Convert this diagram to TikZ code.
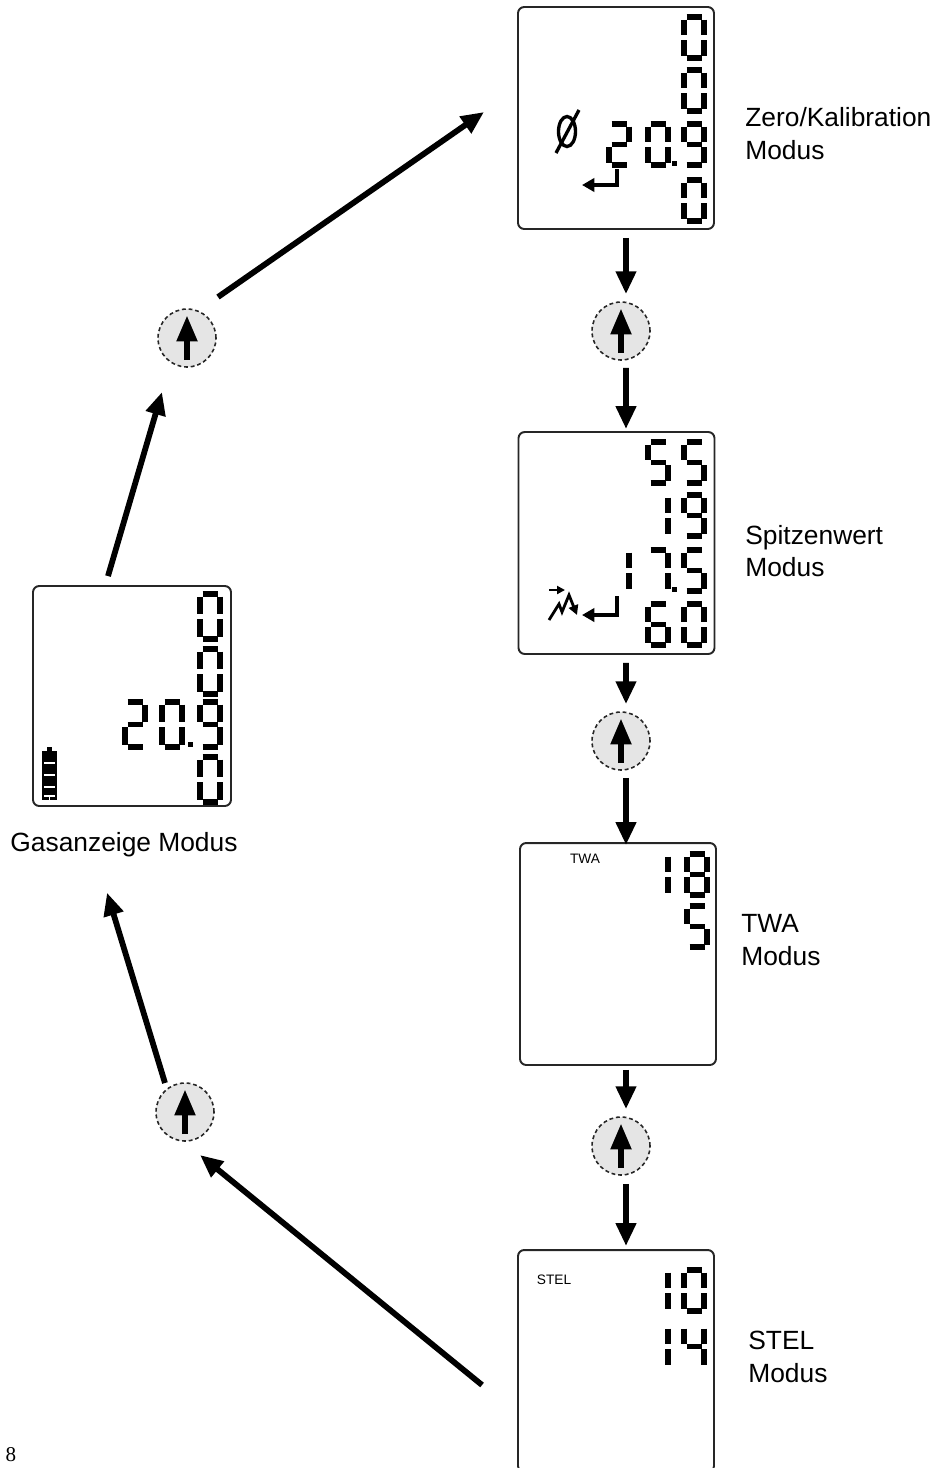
\documentclass[tikz,border=0pt]{standalone}
\usepackage{fontspec}
\setmainfont{Liberation Sans}
\newfontfamily\pagenofont{Liberation Serif}
\usepackage{tikz}
\usetikzlibrary{
    arrows.meta,
    positioning
}

% seven segment digits (px units, y down)
\newcommand{\segw}{20}
\newcommand{\segh}{41}
\newcommand{\lcdseg}[1]{%
    \if#1a\draw[seg] (2.5,0) -- (\segw-2.5,0);\fi
    \if#1b\draw[seg] (\segw,2.5) -- (\segw,\segh/2-2.5);\fi
    \if#1c\draw[seg] (\segw,\segh/2+2.5) -- (\segw,\segh-2.5);\fi
    \if#1d\draw[seg] (2.5,\segh) -- (\segw-2.5,\segh);\fi
    \if#1e\draw[seg] (0,\segh/2+2.5) -- (0,\segh-2.5);\fi
    \if#1f\draw[seg] (0,2.5) -- (0,\segh/2-2.5);\fi
    \if#1g\draw[seg] (2.5,\segh/2) -- (\segw-2.5,\segh/2);\fi}
\newcommand{\lcddigit}[3]{%
    \begin{scope}[shift={(#1,#2)}]
        \edef\seglist{#3}
        \foreach \s in \seglist {\lcdseg{\s}}
    \end{scope}}
\newcommand{\dgzero}{a,b,c,d,e,f}
\newcommand{\dgone}{b,c}
\newcommand{\dgtwo}{a,b,g,e,d}
\newcommand{\dgfour}{f,g,b,c}
\newcommand{\dgfive}{a,f,g,c,d}
\newcommand{\dgsix}{a,f,g,e,c,d}
\newcommand{\dgseven}{a,b,c}
\newcommand{\dgeight}{a,b,c,d,e,f,g}
\newcommand{\dgnine}{a,b,c,d,f,g}

\begin{document}
\begin{tikzpicture}[
    x=0.02cm, y=-0.02cm,
    font=\fontsize{15}{18.7}\selectfont,
    lcdbox/.style={
        rectangle,
        rounded corners=3.5pt,
        draw=black!85,
        line width=1.1pt,
        inner sep=0pt,
        minimum width=3.92cm,
        minimum height=4.44cm
    },
    button/.style={
        circle,
        draw=black!85,
        fill=gray!20,
        line width=0.9pt,
        dash pattern=on 2.2pt off 1.6pt,
        minimum size=1.16cm,
        inner sep=0pt
    },
    seg/.style={line width=2.9pt},
    modelabel/.style={anchor=west, align=left, inner sep=0pt},
    tag/.style={font=\fontsize{7.8}{9}\selectfont, inner sep=0pt},
    bigarrow/.style={-{Triangle[length=13pt,width=11pt]}, line width=3.3pt},
    btnarrow/.style={-{Triangle[length=15pt,width=11pt]}, line width=3.8pt},
    retarrow/.style={-{Triangle[length=7pt,width=7.5pt]}, line width=1.9pt}
]
\useasboundingbox (0,0) rectangle (933,1468);

% ===== displays =====
\node[lcdbox] (zero) at (616,118) {};
\node[lcdbox] (peak) at (616.5,543) {};
\node[lcdbox] (twa) at (618,954) {};
\node[lcdbox] (stel) at (616,1361) {};
\node[lcdbox, minimum width=3.96cm, minimum height=4.4cm] (gas) at (132,696) {};

\node[modelabel] (zerolab) at (745,133.5) {Zero/Kalibration\\Modus};
\node[modelabel] (peaklab) at (745,551) {Spitzenwert\\Modus};
\node[modelabel] (twalab) at (741,940) {TWA\\Modus};
\node[modelabel] (stellab) at (748,1357) {STEL\\Modus};
\node[inner sep=0pt] (gaslab) at (124,845) {Gasanzeige Modus};

% ===== buttons =====
\node[button] (btnA) at (187,338) {};
\node[button] (btnB) at (621,331) {};
\node[button] (btnC) at (621,741) {};
\node[button] (btnD) at (621,1146) {};
\node[button] (btnE) at (185,1112) {};
\foreach \b in {btnA,btnB,btnC,btnD,btnE}
    \draw[btnarrow] ([shift={(0,22)}]\b.center) -- ([shift={(0,-23)}]\b.center);

% ===== arrows, right column =====
\draw[bigarrow] ([shift={(10,8)}]zero.south) -- ([shift={(5,-7)}]btnB.north);
\draw[bigarrow] ([shift={(5,7)}]btnB.south) -- ([shift={(9.5,-2)}]peak.north);
\draw[bigarrow] ([shift={(9.5,8)}]peak.south) -- ([shift={(5,-7)}]btnC.north);
\draw[bigarrow] ([shift={(5,7)}]btnC.south) -- ([shift={(8,3)}]twa.north);
\draw[bigarrow] ([shift={(8,4)}]twa.south) -- ([shift={(5,-7)}]btnD.north);
\draw[bigarrow] ([shift={(5,8)}]btnD.south) -- ([shift={(10,-3)}]stel.north);

% ===== arrows, left side =====
\draw[bigarrow] ([shift={(-24,-9)}]gas.north) -- ([shift={(-25,54)}]btnA.center);
\draw[bigarrow] ([shift={(31,-41)}]btnA.center) -- ([shift={(-33,-6)}]zero.west);
\draw[bigarrow] ([shift={(-35,24)}]stel.west) -- ([shift={(15,43)}]btnE.center);
\draw[bigarrow] ([shift={(-20,-29)}]btnE.center) -- ([shift={(-17,35)}]gaslab.south);

% ===== zero display content =====
\lcddigit{684}{17}{\dgzero}
\lcddigit{684}{70}{\dgzero}
\lcddigit{609}{124}{\dgtwo}
\lcddigit{648}{124}{\dgzero}
\lcddigit{684}{124}{\dgnine}
\fill (672,161) rectangle (677,166);
\lcddigit{684}{180}{\dgzero}
\draw[line width=1.9pt] (567,131.5) ellipse [x radius=8.5, y radius=15];
\draw[line width=1.9pt] (556,153) -- (579,110);
\draw[retarrow] (617,169) -- (617,185) -- (582,185);

% ===== peak display content =====
\lcddigit{648}{442}{\dgfive}
\lcddigit{684}{442}{\dgfive}
\lcddigit{648}{495}{\dgone}
\lcddigit{684}{495}{\dgnine}
\lcddigit{609}{550}{\dgone}
\lcddigit{648}{550}{\dgseven}
\fill (672,587) rectangle (677,592);
\lcddigit{684}{550}{\dgfive}
\lcddigit{648}{604}{\dgsix}
\lcddigit{684}{604}{\dgzero}
\draw[retarrow] (617,596) -- (617,615) -- (582,615);
\draw[line width=1.2pt, -{Triangle[length=4.5pt,width=4.5pt]}] (549,590) -- (565,590);
\draw[line width=1.6pt, -{Triangle[length=5.5pt,width=5.5pt]}]
    (549,620) -- (559,604) -- (562,612) -- (569,595) -- (577,615);

% ===== TWA display content =====
\node[tag] at (585,859) {TWA};
\lcddigit{648}{854}{\dgone}
\lcddigit{687}{854}{\dgeight}
\lcddigit{687}{906}{\dgfive}

% ===== STEL display content =====
\node[tag] at (554,1280) {STEL};
\lcddigit{648}{1270}{\dgone}
\lcddigit{684}{1270}{\dgzero}
\lcddigit{648}{1326}{\dgone}
\lcddigit{684}{1326}{\dgfour}

% ===== gas display content =====
\begin{scope}
    \renewcommand{\segh}{45}
    \lcddigit{200}{594}{\dgzero}
    \lcddigit{200}{649}{\dgzero}
    \lcddigit{125}{702}{\dgtwo}
    \lcddigit{162}{702}{\dgzero}
    \fill (188,742) rectangle (193,747);
    \lcddigit{200}{702}{\dgnine}
    \lcddigit{200}{757}{\dgzero}
\end{scope}
% battery
\fill (42,751) rectangle (57,800);
\fill (47,747) rectangle (52,751);
\foreach \yy in {763,775,787}
    \draw[white, line width=0.6pt] (44,\yy) -- (55,\yy);
\draw[white, line width=0.6pt] (44,796) -- (55,796) (49.5,796) -- (49.5,800);

% page number
\node[inner sep=0pt, font=\pagenofont\fontsize{12}{14}\selectfont] (pageno) at (11,1455) {8};

\end{tikzpicture}
\end{document}
